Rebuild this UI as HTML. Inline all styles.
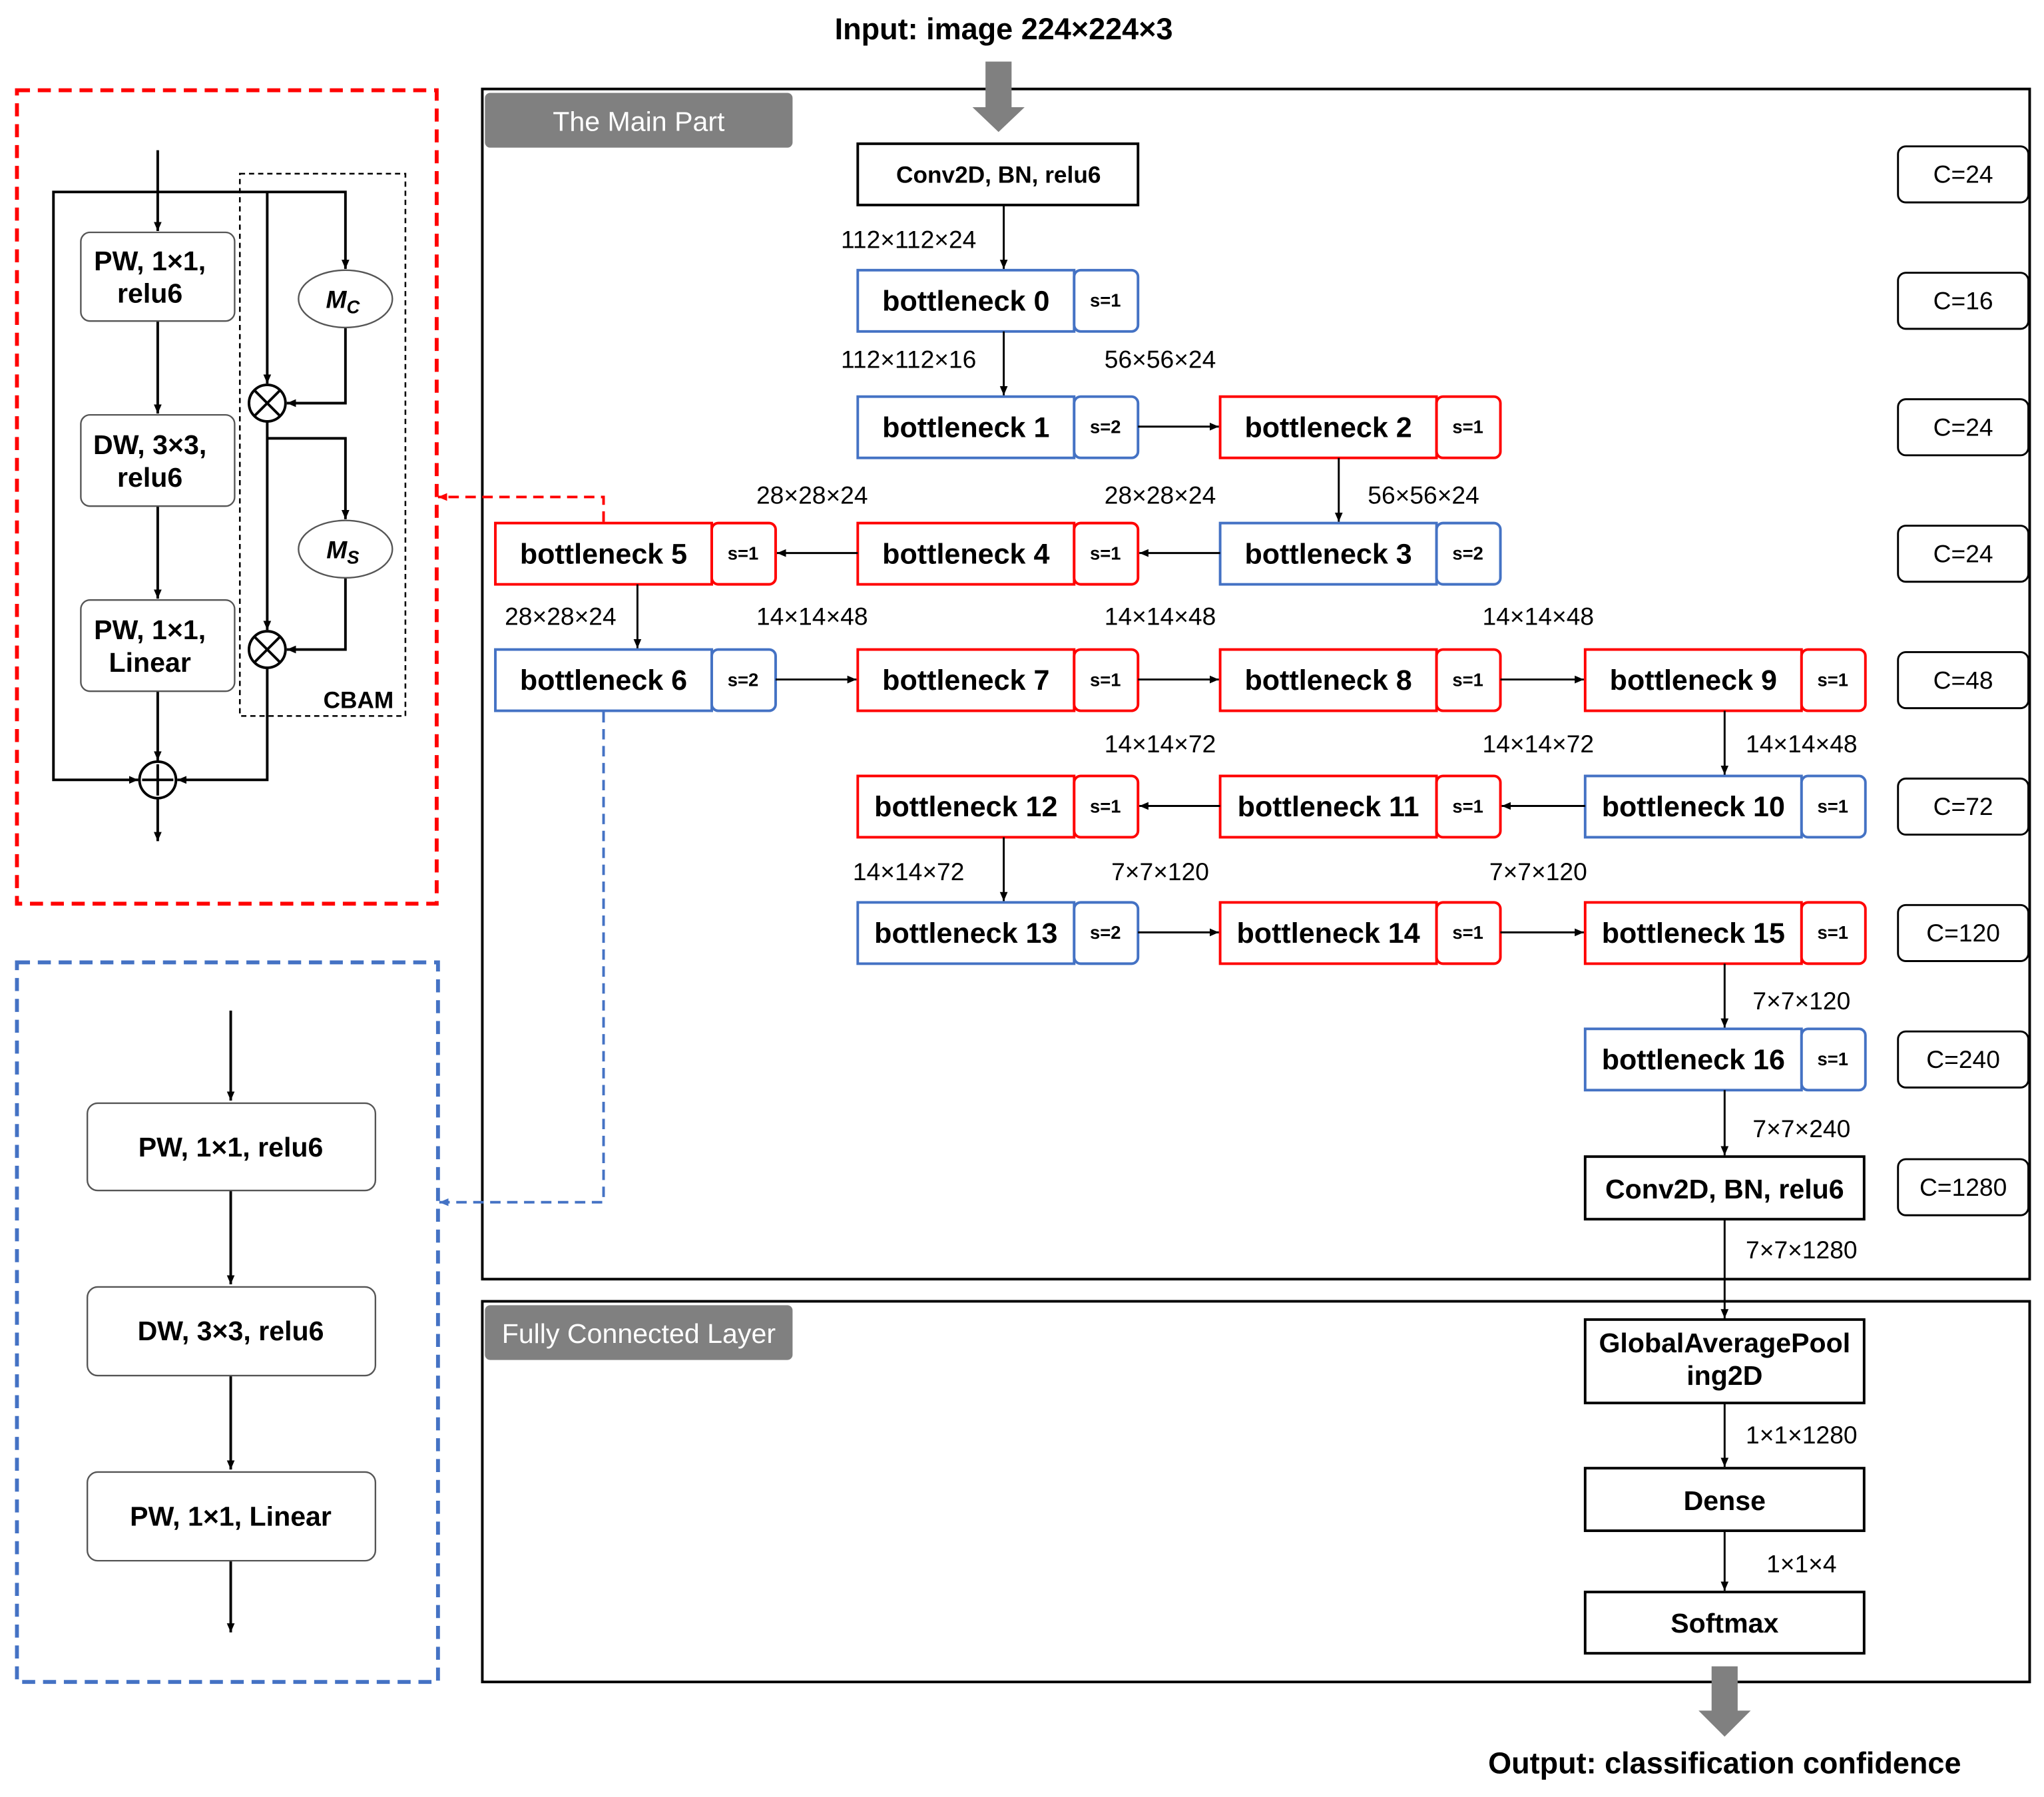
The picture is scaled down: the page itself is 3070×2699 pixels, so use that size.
<!DOCTYPE html>
<html><head><meta charset="utf-8"><style>
html,body{margin:0;padding:0;background:#fff}
svg{display:block}
text{font-family:"Liberation Sans","Noto Sans CJK SC",sans-serif}
</style></head><body>
<svg width="3070" height="2699" viewBox="0 0 1568 1378" xmlns="http://www.w3.org/2000/svg">
<defs>
<marker id="a" markerWidth="8" markerHeight="8" refX="7" refY="4" orient="auto" markerUnits="userSpaceOnUse"><path d="M0,1 L7,4 L0,7 z" fill="#000"/></marker>
<marker id="ar" markerWidth="8" markerHeight="8" refX="7" refY="4" orient="auto" markerUnits="userSpaceOnUse"><path d="M0,1 L7,4 L0,7 z" fill="#f00"/></marker>
<marker id="ab" markerWidth="8" markerHeight="8" refX="7" refY="4" orient="auto" markerUnits="userSpaceOnUse"><path d="M0,1 L7,4 L0,7 z" fill="#4472C4"/></marker>
</defs>
<g fill="none" stroke="#000" stroke-width="2">
<!-- main boxes -->
<rect x="370" y="68" width="1187" height="913"/>
<rect x="370" y="998" width="1187" height="292"/>
</g>
<rect x="372" y="71" width="236" height="42" rx="4" fill="#808080"/>
<text x="490" y="100" font-size="21" fill="#fff" text-anchor="middle">The Main Part</text>
<rect x="372" y="1001" width="236" height="42" rx="4" fill="#808080"/>
<text x="490" y="1030" font-size="21" fill="#fff" text-anchor="middle">Fully Connected Layer</text>

<text x="770" y="30" font-size="23" font-weight="bold" text-anchor="middle">Input:  image 224×224×3</text>
<path d="M756,47 H776 V82 H786 L766,101 L746,82 H756 Z" fill="#808080"/>
<path d="M1313,1278 H1333 V1312 H1343 L1323,1332 L1303,1312 H1313 Z" fill="#808080"/>
<text x="1323" y="1360" font-size="23" font-weight="bold" text-anchor="middle">Output:  classification confidence</text>

<g fill="#fff" stroke="#000" stroke-width="2">
<rect x="658" y="110" width="215" height="47"/>
<rect x="1216" y="887" width="214" height="48"/>
<rect x="1216" y="1012" width="214" height="64"/>
<rect x="1216" y="1126" width="214" height="48"/>
<rect x="1216" y="1221" width="214" height="47"/>
</g>
<g font-weight="bold" text-anchor="middle" font-size="21">
<text x="766" y="140" font-size="18">Conv2D, BN, relu6</text>
<text x="1323" y="919">Conv2D, BN, relu6</text>
<text x="1323" y="1037">GlobalAveragePool</text>
<text x="1323" y="1062">ing2D</text>
<text x="1323" y="1158">Dense</text>
<text x="1323" y="1252">Softmax</text>
</g>

<!-- C boxes -->
<g fill="#fff" stroke="#000" stroke-width="1.5">
<rect x="1456" y="112" width="100" height="43" rx="6"/>
<rect x="1456" y="209" width="100" height="43" rx="6"/>
<rect x="1456" y="306" width="100" height="43" rx="6"/>
<rect x="1456" y="403" width="100" height="43" rx="6"/>
<rect x="1456" y="500" width="100" height="43" rx="6"/>
<rect x="1456" y="597" width="100" height="43" rx="6"/>
<rect x="1456" y="694" width="100" height="43" rx="6"/>
<rect x="1456" y="791" width="100" height="43" rx="6"/>
<rect x="1456" y="889" width="100" height="43" rx="6"/>
</g>
<g font-size="19" text-anchor="middle">
<text x="1506" y="140">C=24</text><text x="1506" y="237">C=16</text><text x="1506" y="334">C=24</text>
<text x="1506" y="431">C=24</text><text x="1506" y="528">C=48</text><text x="1506" y="625">C=72</text>
<text x="1506" y="722">C=120</text><text x="1506" y="819">C=240</text><text x="1506" y="917">C=1280</text>
</g>

<!-- bottlenecks: macro via groups -->
<g stroke-width="2" fill="#fff">
<!-- blue -->
<g stroke="#4472C4">
<rect x="658" y="207" width="166" height="47"/><rect x="824" y="207" width="49" height="47" rx="5"/>
<rect x="658" y="304" width="166" height="47"/><rect x="824" y="304" width="49" height="47" rx="5"/>
<rect x="936" y="401" width="166" height="47"/><rect x="1102" y="401" width="49" height="47" rx="5"/>
<rect x="380" y="498" width="166" height="47"/><rect x="546" y="498" width="49" height="47" rx="5"/>
<rect x="1216" y="595" width="166" height="47"/><rect x="1382" y="595" width="49" height="47" rx="5"/>
<rect x="658" y="692" width="166" height="47"/><rect x="824" y="692" width="49" height="47" rx="5"/>
<rect x="1216" y="789" width="166" height="47"/><rect x="1382" y="789" width="49" height="47" rx="5"/>
</g>
<g stroke="#f00">
<rect x="936" y="304" width="166" height="47"/><rect x="1102" y="304" width="49" height="47" rx="5"/>
<rect x="658" y="401" width="166" height="47"/><rect x="824" y="401" width="49" height="47" rx="5"/>
<rect x="380" y="401" width="166" height="47"/><rect x="546" y="401" width="49" height="47" rx="5"/>
<rect x="658" y="498" width="166" height="47"/><rect x="824" y="498" width="49" height="47" rx="5"/>
<rect x="936" y="498" width="166" height="47"/><rect x="1102" y="498" width="49" height="47" rx="5"/>
<rect x="1216" y="498" width="166" height="47"/><rect x="1382" y="498" width="49" height="47" rx="5"/>
<rect x="936" y="595" width="166" height="47"/><rect x="1102" y="595" width="49" height="47" rx="5"/>
<rect x="658" y="595" width="166" height="47"/><rect x="824" y="595" width="49" height="47" rx="5"/>
<rect x="936" y="692" width="166" height="47"/><rect x="1102" y="692" width="49" height="47" rx="5"/>
<rect x="1216" y="692" width="166" height="47"/><rect x="1382" y="692" width="49" height="47" rx="5"/>
</g>
</g>
<g font-size="22" font-weight="bold" text-anchor="middle">
<text x="741" y="238">bottleneck 0</text>
<text x="741" y="335">bottleneck 1</text><text x="1019" y="335">bottleneck 2</text>
<text x="463" y="432">bottleneck 5</text><text x="741" y="432">bottleneck 4</text><text x="1019" y="432">bottleneck 3</text>
<text x="463" y="529">bottleneck 6</text><text x="741" y="529">bottleneck 7</text><text x="1019" y="529">bottleneck 8</text><text x="1299" y="529">bottleneck 9</text>
<text x="741" y="626">bottleneck 12</text><text x="1019" y="626">bottleneck 11</text><text x="1299" y="626">bottleneck 10</text>
<text x="741" y="723">bottleneck 13</text><text x="1019" y="723">bottleneck 14</text><text x="1299" y="723">bottleneck 15</text>
<text x="1299" y="820">bottleneck 16</text>
</g>
<g font-size="14" font-weight="bold" text-anchor="middle">
<text x="848" y="235">s=1</text>
<text x="848" y="332">s=2</text><text x="1126" y="332">s=1</text>
<text x="570" y="429">s=1</text><text x="848" y="429">s=1</text><text x="1126" y="429">s=2</text>
<text x="570" y="526">s=2</text><text x="848" y="526">s=1</text><text x="1126" y="526">s=1</text><text x="1406" y="526">s=1</text>
<text x="848" y="623">s=1</text><text x="1126" y="623">s=1</text><text x="1406" y="623">s=1</text>
<text x="848" y="720">s=2</text><text x="1126" y="720">s=1</text><text x="1406" y="720">s=1</text>
<text x="1406" y="817">s=1</text>
</g>

<!-- connectors -->
<g stroke="#000" stroke-width="1.5" marker-end="url(#a)">
<line x1="770" y1="157" x2="770" y2="206"/>
<line x1="770" y1="254" x2="770" y2="303"/>
<line x1="873" y1="327" x2="935" y2="327"/>
<line x1="1027" y1="351" x2="1027" y2="400"/>
<line x1="936" y1="424" x2="874" y2="424"/>
<line x1="658" y1="424" x2="596" y2="424"/>
<line x1="489" y1="448" x2="489" y2="497"/>
<line x1="595" y1="521" x2="657" y2="521"/>
<line x1="873" y1="521" x2="935" y2="521"/>
<line x1="1151" y1="521" x2="1215" y2="521"/>
<line x1="1323" y1="545" x2="1323" y2="594"/>
<line x1="1216" y1="618" x2="1152" y2="618"/>
<line x1="936" y1="618" x2="874" y2="618"/>
<line x1="770" y1="642" x2="770" y2="691"/>
<line x1="873" y1="715" x2="935" y2="715"/>
<line x1="1151" y1="715" x2="1215" y2="715"/>
<line x1="1323" y1="739" x2="1323" y2="788"/>
<line x1="1323" y1="836" x2="1323" y2="886"/>
<line x1="1323" y1="935" x2="1323" y2="1011"/>
<line x1="1323" y1="1076" x2="1323" y2="1125"/>
<line x1="1323" y1="1174" x2="1323" y2="1220"/>
</g>
<g font-size="19" text-anchor="middle">
<text x="697" y="190">112×112×24</text>
<text x="697" y="282">112×112×16</text><text x="890" y="282">56×56×24</text>
<text x="623" y="386">28×28×24</text><text x="890" y="386">28×28×24</text><text x="1092" y="386">56×56×24</text>
<text x="430" y="479">28×28×24</text><text x="623" y="479">14×14×48</text><text x="890" y="479">14×14×48</text><text x="1180" y="479">14×14×48</text>
<text x="890" y="577">14×14×72</text><text x="1180" y="577">14×14×72</text><text x="1382" y="577">14×14×48</text>
<text x="697" y="675">14×14×72</text><text x="890" y="675">7×7×120</text><text x="1180" y="675">7×7×120</text>
<text x="1382" y="774">7×7×120</text><text x="1382" y="872">7×7×240</text><text x="1382" y="965">7×7×1280</text>
<text x="1382" y="1107">1×1×1280</text><text x="1382" y="1206">1×1×4</text>
</g>

<!-- dashed connectors -->
<polyline points="463,400 463,381 336,381" fill="none" stroke="#f00" stroke-width="2" stroke-dasharray="8,5" marker-end="url(#ar)"/>
<polyline points="463,546 463,922 337,922" fill="none" stroke="#4472C4" stroke-width="2" stroke-dasharray="8,5" marker-end="url(#ab)"/>

<!-- left red panel -->
<rect x="13" y="69" width="322" height="624" fill="none" stroke="#f00" stroke-width="3" stroke-dasharray="10,6"/>
<rect x="184" y="133" width="127" height="416" fill="none" stroke="#000" stroke-width="1.3" stroke-dasharray="4,3"/>
<text x="302" y="543" font-size="18" font-weight="bold" text-anchor="end">CBAM</text>
<g stroke="#000" stroke-width="2" fill="none">
<line x1="121" y1="115" x2="121" y2="177" marker-end="url(#a)"/>
<line x1="121" y1="246" x2="121" y2="317" marker-end="url(#a)"/>
<line x1="121" y1="388" x2="121" y2="459" marker-end="url(#a)"/>
<line x1="121" y1="530" x2="121" y2="583" marker-end="url(#a)"/>
<line x1="121" y1="612" x2="121" y2="645" marker-end="url(#a)"/>
<polyline points="121,147 41,147 41,598 106,598" marker-end="url(#a)"/>
<polyline points="121,147 265,147 265,206" marker-end="url(#a)"/>
<line x1="205" y1="147" x2="205" y2="294" marker-end="url(#a)"/>
<polyline points="265,251 265,309 220,309" marker-end="url(#a)"/>
<line x1="205" y1="323" x2="205" y2="483" marker-end="url(#a)"/>
<polyline points="205,336 265,336 265,398" marker-end="url(#a)"/>
<polyline points="265,443 265,498 220,498" marker-end="url(#a)"/>
<polyline points="205,512 205,598 136,598" marker-end="url(#a)"/>
</g>
<g fill="#fff" stroke="#555" stroke-width="1.2">
<rect x="62" y="178" width="118" height="68" rx="7"/>
<rect x="62" y="318" width="118" height="70" rx="7"/>
<rect x="62" y="460" width="118" height="70" rx="7"/>
<ellipse cx="265" cy="229" rx="36" ry="22"/>
<ellipse cx="265" cy="421" rx="36" ry="22"/>
</g>
<g fill="#fff" stroke="#000" stroke-width="2">
<circle cx="205" cy="309" r="14"/><circle cx="205" cy="498" r="14"/><circle cx="121" cy="598" r="14"/>
<path d="M195,299 L215,319 M215,299 L195,319 M195,488 L215,508 M215,488 L195,508 M109,598 H133 M121,586 V610" fill="none"/>
</g>
<g font-size="21" font-weight="bold" text-anchor="middle">
<text x="115" y="207">PW, 1×1,</text><text x="115" y="232">relu6</text>
<text x="115" y="348">DW, 3×3,</text><text x="115" y="373">relu6</text>
<text x="115" y="490">PW, 1×1,</text><text x="115" y="515">Linear</text>
</g>
<text x="263" y="236" font-size="19" font-style="italic" font-weight="bold" text-anchor="middle" font-family="Liberation Serif,serif">M<tspan font-size="14" dy="4">C</tspan></text>
<text x="263" y="428" font-size="19" font-style="italic" font-weight="bold" text-anchor="middle" font-family="Liberation Serif,serif">M<tspan font-size="14" dy="4">S</tspan></text>

<!-- left blue panel -->
<rect x="13" y="738" width="323" height="552" fill="none" stroke="#4472C4" stroke-width="3" stroke-dasharray="10,6"/>
<g stroke="#000" stroke-width="2">
<line x1="177" y1="775" x2="177" y2="844" marker-end="url(#a)"/>
<line x1="177" y1="913" x2="177" y2="985" marker-end="url(#a)"/>
<line x1="177" y1="1055" x2="177" y2="1127" marker-end="url(#a)"/>
<line x1="177" y1="1197" x2="177" y2="1252" marker-end="url(#a)"/>
</g>
<g fill="#fff" stroke="#555" stroke-width="1.2">
<rect x="67" y="846" width="221" height="67" rx="8"/>
<rect x="67" y="987" width="221" height="68" rx="8"/>
<rect x="67" y="1129" width="221" height="68" rx="8"/>
</g>
<g font-size="21" font-weight="bold" text-anchor="middle">
<text x="177" y="887">PW, 1×1,  relu6</text>
<text x="177" y="1028">DW, 3×3,  relu6</text>
<text x="177" y="1170">PW, 1×1,  Linear</text>
</g>
</svg>
</body></html>
